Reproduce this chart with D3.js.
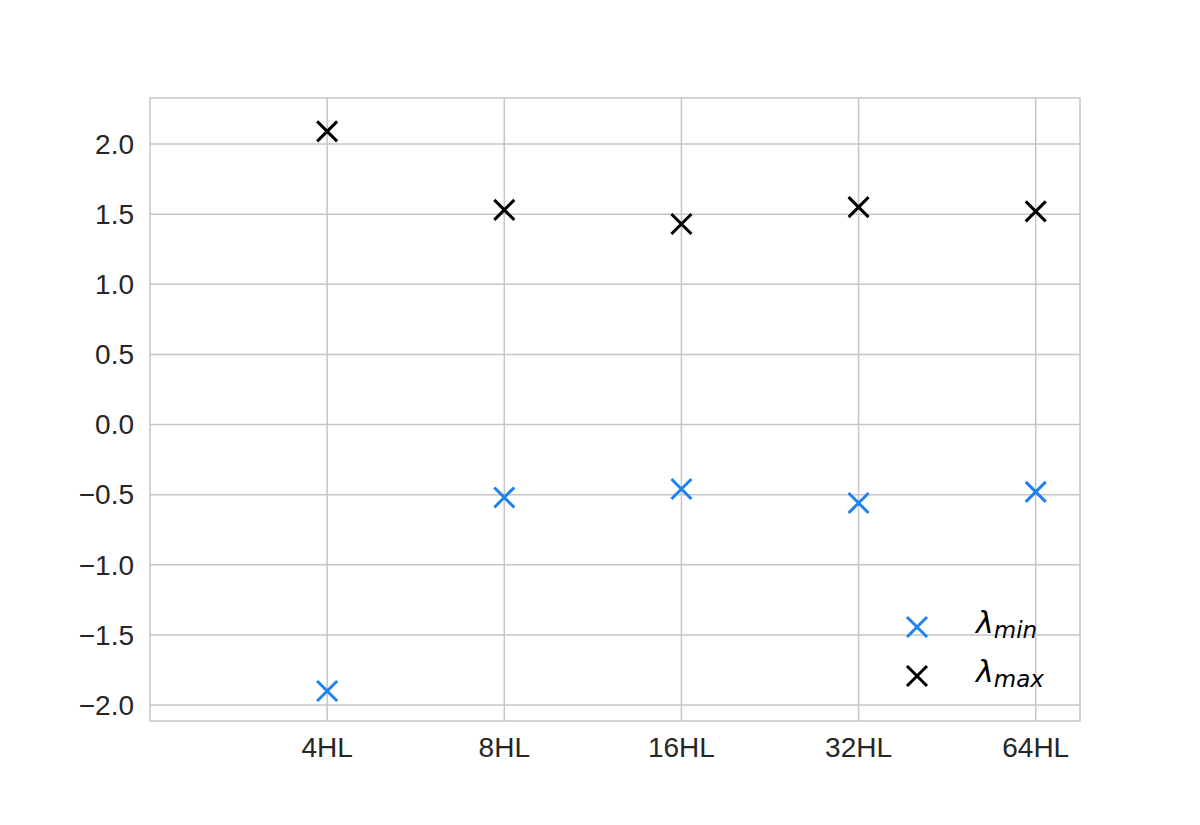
<!DOCTYPE html>
<html><head><meta charset="utf-8">
<script src="https://cdn.jsdelivr.net/npm/d3@7"></script>
<style>body{margin:0;background:#fff}</style>
</head><body>
<svg id="chart" width="1200" height="825"></svg>
<script>
const categories = ["4HL", "8HL", "16HL", "32HL", "64HL"];
const lambdaMin = [-1.90, -0.52, -0.46, -0.56, -0.48];
const lambdaMax = [2.09, 1.53, 1.43, 1.55, 1.52];
const yTicks = [-2.0, -1.5, -1.0, -0.5, 0.0, 0.5, 1.0, 1.5, 2.0];

const svg = d3.select("#chart");
const L = 150, R = 1080, T = 98, B = 721;
const x = d3.scaleLinear().domain([-1, 4.25]).range([L, R]);
const y = d3.scaleLinear().domain([-2.114, 2.328]).range([B, T]);
const gridColor = "#c6c6c6", textColor = "#262626";
const blue = "#1f82f0";

svg.append("rect").attr("x",0).attr("y",0).attr("width",1200).attr("height",825).attr("fill","#fff");

// grid
const gx = svg.append("g");
gx.selectAll("line.v").data(categories).join("line")
  .attr("x1",(d,i)=>x(i)).attr("x2",(d,i)=>x(i)).attr("y1",T).attr("y2",B)
  .attr("stroke",gridColor).attr("stroke-width",1.5);
gx.selectAll("line.h").data(yTicks).join("line")
  .attr("x1",L).attr("x2",R).attr("y1",d=>y(d)).attr("y2",d=>y(d))
  .attr("stroke",gridColor).attr("stroke-width",1.5);
svg.append("rect").attr("x",L).attr("y",T).attr("width",R-L).attr("height",B-T)
  .attr("fill","none").attr("stroke",gridColor).attr("stroke-width",1.5);

// axes labels
const fmt = d => (d < 0 ? "\u2212" : "") + Math.abs(d).toFixed(1);
svg.append("g").selectAll("text").data(yTicks).join("text")
  .attr("x", 134).attr("y", d=>y(d)).attr("dy","0.35em")
  .attr("text-anchor","end").attr("font-family","Liberation Sans, Arial, sans-serif")
  .attr("font-size", 28).attr("fill", textColor).text(fmt);
svg.append("g").selectAll("text").data(categories).join("text")
  .attr("x",(d,i)=>x(i)).attr("y", 757)
  .attr("text-anchor","middle").attr("font-family","Liberation Sans, Arial, sans-serif")
  .attr("font-size", 28).attr("fill", textColor).text(d=>d);

// markers
function cross(g, cx, cy, color) {
  const s = 10;
  g.append("path").attr("d",`M${cx-s},${cy-s}L${cx+s},${cy+s}M${cx-s},${cy+s}L${cx+s},${cy-s}`)
    .attr("stroke", color).attr("stroke-width", 3).attr("fill","none");
}
const gm = svg.append("g");
lambdaMin.forEach((v,i)=>cross(gm, x(i), y(v), blue));
lambdaMax.forEach((v,i)=>cross(gm, x(i), y(v), "#000"));

// legend
const leg = svg.append("g");
const items = [{sub:"min", color:blue, cy:627},{sub:"max", color:"#000", cy:676}];
items.forEach(it => {
  cross(leg, 917, it.cy, it.color);
  const t = leg.append("text").attr("x", 976).attr("y", it.cy + 6)
    .attr("font-family","DejaVu Sans, sans-serif").attr("font-style","italic")
    .attr("font-size", 30).attr("fill","#000");
  t.append("tspan").text("\u03bb");
  t.append("tspan").attr("font-size", 23).attr("dy", 5).text(it.sub);
});
</script>
</body></html>
